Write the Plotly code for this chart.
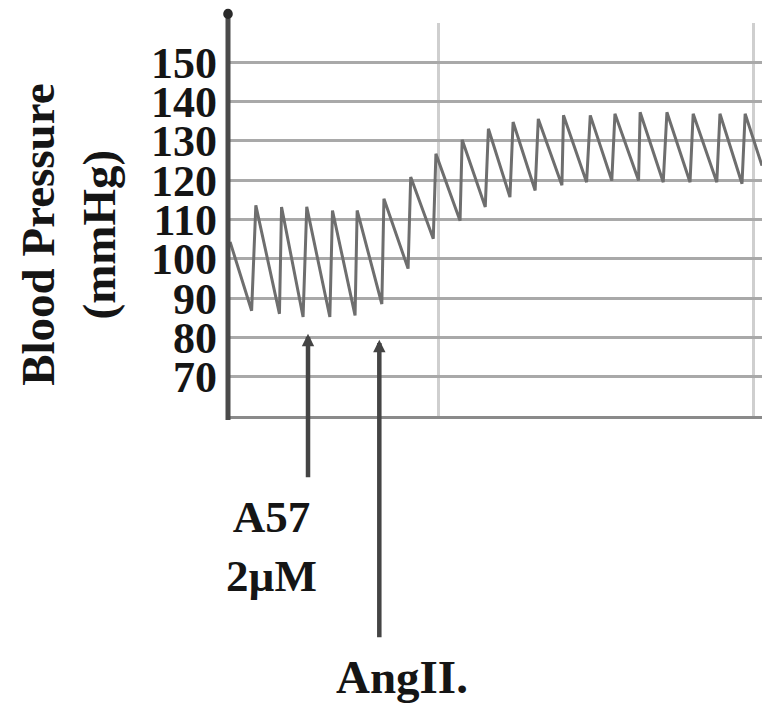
import plotly.graph_objects as go

# Waveform (time in arbitrary units, pressure in mmHg)
time = [0.04, 0.45, 0.53, 0.98, 1.02, 1.43, 1.50, 1.94, 1.99, 2.42, 2.46, 2.93, 2.97,
        3.43, 3.48, 3.91, 3.96, 4.42, 4.46, 4.90, 4.96, 5.37, 5.43, 5.85, 5.91, 6.36,
        6.39, 6.83, 6.90, 7.31, 7.37, 7.82, 7.85, 8.29, 8.36, 8.80, 8.86, 9.31, 9.37,
        9.79, 9.85, 10.17]
pressure = [104.3, 86.8, 113.6, 86.0, 113.2, 85.2, 113.2, 85.2, 112.3, 85.6, 112.3, 88.5,
            115.3, 97.5, 120.8, 105.1, 126.7, 109.7, 130.3, 113.2, 133.1, 115.7, 134.8,
            117.4, 135.6, 118.7, 136.5, 119.5, 136.5, 119.9, 136.9, 119.9, 137.3, 119.5,
            137.3, 119.5, 136.9, 119.5, 136.9, 119.1, 136.9, 123.7]

y_ticks = [60, 70, 80, 90, 100, 110, 120, 130, 140, 150, 160]
y_labels = ["", "70", "80", "90", "100", "110", "120", "130", "140", "150", ""]
x_grid = [4, 10]

# Event markers: (time, pressure at arrow tip)
event_times = [1.524, 2.882]
event_tips = [80.9, 79.4]

FONT = "Liberation Serif"

fig = go.Figure()
fig.add_trace(go.Scatter(x=time, y=pressure, mode="lines",
                         line=dict(color="#6e6e6e", width=3), hoverinfo="skip"))

fig.update_layout(
    width=769, height=707,
    margin=dict(l=228, r=7, t=23, b=291),
    paper_bgcolor="white", plot_bgcolor="white",
    showlegend=False,
    xaxis=dict(range=[0, 10.171], tickvals=x_grid, showticklabels=False,
               showgrid=True, gridcolor="#cfcfcf", gridwidth=3,
               zeroline=False, showline=True, linecolor="#8a8a8a", linewidth=3,
               ticks=""),
    yaxis=dict(range=[60, 160], tickvals=y_ticks, ticktext=y_labels,
               showgrid=True, gridcolor="#a9a9a9", gridwidth=2.5,
               zeroline=False, showline=False, ticks="", ticklabelstandoff=10,
               tickfont=dict(family=FONT, size=44, color="#151515", weight="bold")),
)

# left axis with top marker
fig.add_shape(type="line", xref="paper", yref="paper", x0=0, x1=0, y0=-0.01, y1=1.022,
              line=dict(color="#4a4a4a", width=5))
fig.add_shape(type="circle", xref="paper", yref="paper",
              x0=-0.009, x1=0.009, y0=1.01, y1=1.036,
              fillcolor="#2a2a2a", line=dict(width=0))

# event arrows
tails = [145, 299]
for t, p, tail in zip(event_times, event_tips, tails):
    fig.add_annotation(x=t, y=p, xref="x", yref="y", text="", showarrow=True,
                       ax=0, ay=tail, axref="pixel", ayref="pixel",
                       arrowhead=2, arrowsize=0.55, arrowwidth=4.5, arrowcolor="#444444")

fig.add_annotation(x=0.82, y=-0.331, xref="x", yref="paper", text="<b>A57<br>2\u00b5M</b>",
                   showarrow=False, xanchor="center", yanchor="middle",
                   font=dict(family=FONT, size=45, color="#151515"))
fig.add_annotation(x=3.31, y=-0.665, xref="x", yref="paper", text="<b>AngII.</b>",
                   showarrow=False, xanchor="center", yanchor="middle",
                   font=dict(family=FONT, size=47, color="#151515"))

# y-axis title
fig.add_annotation(x=-0.298, y=0.4606, xref="paper", yref="paper",
                   text="<b>Blood Pressure<br>(mmHg)</b>",
                   showarrow=False, textangle=-90, xanchor="center", yanchor="middle",
                   font=dict(family=FONT, size=47, color="#151515"))

fig.write_html("out.html")
